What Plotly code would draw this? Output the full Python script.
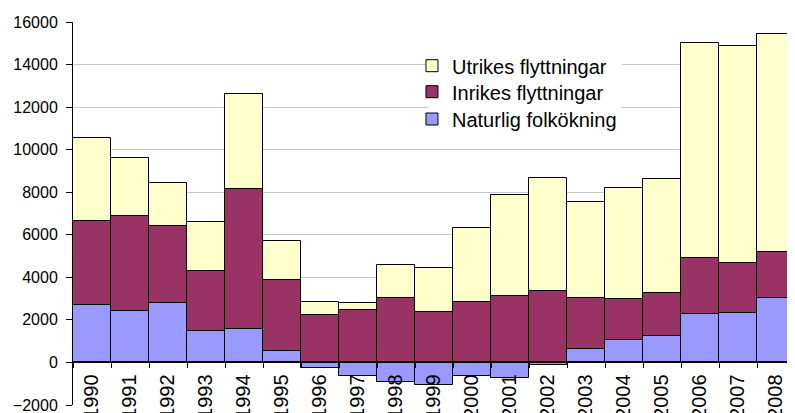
import plotly.graph_objects as go

years = [str(y) for y in range(1990, 2009)]
naturlig = [2700, 2420, 2780, 1490, 1570, 550, -250, -640, -920, -1080, -630, -710, -110,
            640, 1050, 1220, 2290, 2340, 3040]
inrikes = [3940, 4470, 3610, 2820, 6570, 3320, 2210, 2450, 3040, 2370, 2860, 3140, 3370,
           2390, 1950, 2030, 2640, 2350, 2170]
utrikes = [3920, 2730, 2040, 2310, 4460, 1840, 610, 340, 1540, 2090, 3440, 4710, 5300,
           4530, 5220, 5350, 10100, 10170, 10240]

FONT = "Arial, 'Liberation Sans', sans-serif"
line = dict(color="#000000", width=1)

fig = go.Figure()
fig.add_trace(go.Bar(x=years, y=naturlig, name="Naturlig folkökning", legend="legend3",
                     marker=dict(color="#9999FF", line=line)))
fig.add_trace(go.Bar(x=years, y=inrikes, name="Inrikes flyttningar", legend="legend2",
                     marker=dict(color="#993366", line=line)))
fig.add_trace(go.Bar(x=years, y=utrikes, name="Utrikes flyttningar", legend="legend",
                     marker=dict(color="#FFFFCC", line=line)))

def leg(yfrac):
    return dict(x=0.4695, y=yfrac, xanchor="left", yanchor="middle",
                bgcolor="rgba(0,0,0,0)", borderwidth=0,
                font=dict(family=FONT, size=20, color="black"))

fig.update_layout(
    width=787, height=405,
    barmode="relative", bargap=0,
    margin=dict(l=65, r=0, t=14, b=8),
    paper_bgcolor="white", plot_bgcolor="white",
    font=dict(family=FONT, size=16, color="black"),
    showlegend=True,
    legend=leg(0.8859),
    legend2=leg(0.8180),
    legend3=leg(0.7467),
    shapes=[dict(type="rect", xref="paper", yref="paper", x0=0.4917, x1=0.7604,
                 y0=0.71, y1=0.94, fillcolor="white", line=dict(width=0), layer="above")],
    xaxis=dict(type="category", range=[-0.5, 18.5], anchor="free", automargin=False,
               position=2000 / 18000, showline=True, linecolor="black", linewidth=1,
               ticks="outside", ticklen=5, tickcolor="black", tickson="boundaries",
               tickangle=-90, showgrid=False, zeroline=False, ticklabelstandoff=3,
               ticklabeloverflow="allow",
               tickfont=dict(family=FONT, size=20, color="black")),
    yaxis=dict(range=[-2000, 16000], dtick=2000, tick0=0, tickformat="d", showline=True,
               automargin=False, ticklabeloverflow="allow", ticklabelstandoff=5,
               linecolor="black", linewidth=1, ticks="outside", ticklen=6,
               tickcolor="black", showgrid=True, gridcolor="#c8c8c8", gridwidth=1,
               zeroline=False, tickfont=dict(family=FONT, size=16, color="black")),
)

fig.write_html("out.html")
